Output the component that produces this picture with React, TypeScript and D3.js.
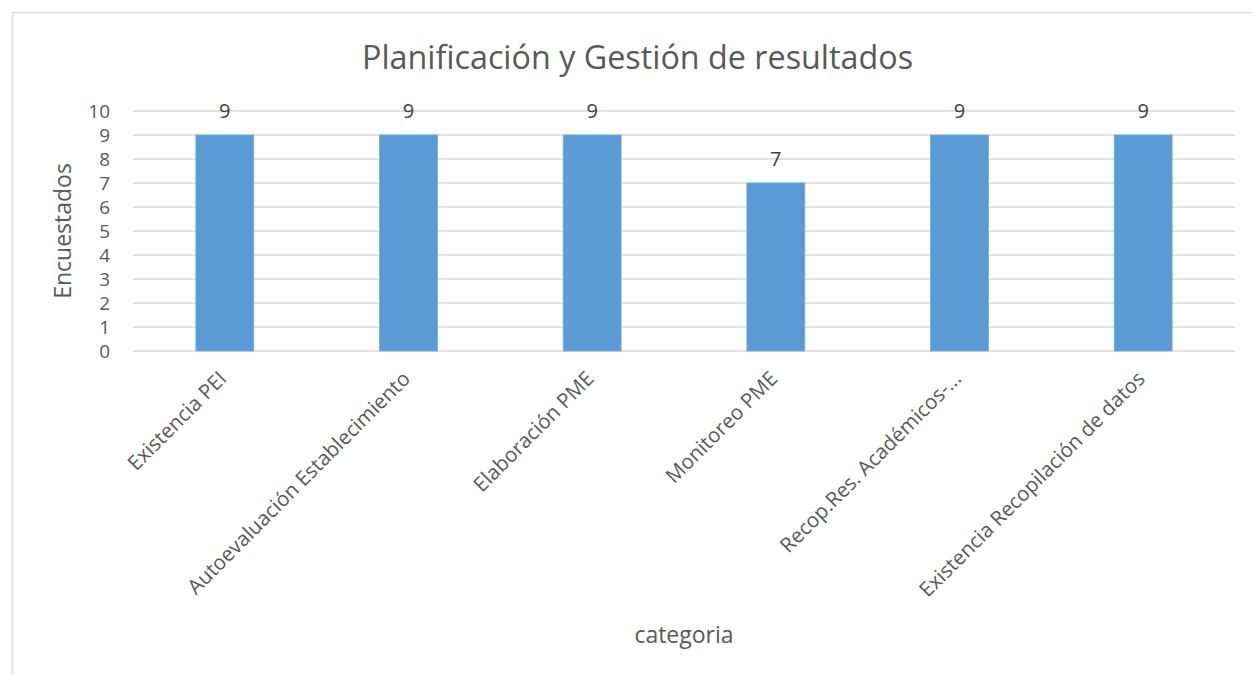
import React from "react";
import * as d3 from "d3";

const categories: string[] = [
  "Existencia PEI",
  "Autoevaluación Establecimiento",
  "Elaboración PME",
  "Monitoreo PME",
  "Recop.Res. Académicos-...",
  "Existencia Recopilación de datos",
];
const values: number[] = [9, 9, 9, 7, 9, 9];
const yTicks: number[] = [0, 1, 2, 3, 4, 5, 6, 7, 8, 9, 10];
const title = "Planificación y Gestión de resultados";
const yTitle = "Encuestados";
const xTitle = "categoria";

const W = 1252;
const H = 675;
const plot = { left: 133, right: 1235, top: 111, bottom: 351 };
const FONT = "'Open Sans', 'Noto Sans', sans-serif";
const TXT = "#595959";

export default function App() {
  const x = d3
    .scaleBand<string>()
    .domain(categories)
    .range([plot.left, plot.right])
    .paddingInner(0.685)
    .paddingOuter(0.3425);
  const y = d3.scaleLinear().domain([0, 10]).range([plot.bottom, plot.top]);

  return (
    <svg
      width={W}
      height={H}
      style={{ position: "absolute", left: 0, top: 0 }}
      fontFamily={FONT}
    >
      <rect x={0} y={0} width={W} height={H} fill="#fff" />
      <rect
        x={12.5}
        y={12.5}
        width={W + 20}
        height={H + 20}
        fill="none"
        stroke="#d9d9d9"
        strokeWidth={1.3}
      />
      <text
        x={637.5}
        y={69}
        textAnchor="middle"
        fontSize={32.3}
        fill={TXT}
      >
        {title}
      </text>
      {yTicks.map((t) => (
        <g key={t}>
          <line
            x1={plot.left}
            x2={plot.right}
            y1={y(t)}
            y2={y(t)}
            stroke="#d9d9d9"
            strokeWidth={1.3}
          />
          <text
            x={110}
            y={y(t)}
            dy="0.36em"
            textAnchor="end"
            fontSize={19}
            fill={TXT}
          >
            {t}
          </text>
        </g>
      ))}
      {categories.map((c, i) => {
        const bx = x(c)!;
        const cx = bx + x.bandwidth() / 2;
        return (
          <g key={c}>
            <rect
              x={bx}
              y={y(values[i])}
              width={x.bandwidth()}
              height={y(0) - y(values[i])}
              fill="#5b9bd5"
              stroke="#6fa8dc"
              strokeWidth={0.8}
            />
            <text
              x={cx}
              y={y(values[i]) - 17}
              textAnchor="middle"
              fontSize={20}
              fill="#404040"
            >
              {values[i]}
            </text>
            <text
              transform={`translate(${cx + 3},${plot.bottom + 29}) rotate(-45)`}
              textAnchor="end"
              fontSize={20.5}
              fill={TXT}
            >
              {c}
            </text>
          </g>
        );
      })}
      <text
        transform={`translate(71,${(plot.top + plot.bottom) / 2}) rotate(-90)`}
        textAnchor="middle"
        fontSize={23}
        fill={TXT}
      >
        {yTitle}
      </text>
      <text
        x={(plot.left + plot.right) / 2}
        y={643}
        textAnchor="middle"
        fontSize={23}
        fill={TXT}
      >
        {xTitle}
      </text>
    </svg>
  );
}
